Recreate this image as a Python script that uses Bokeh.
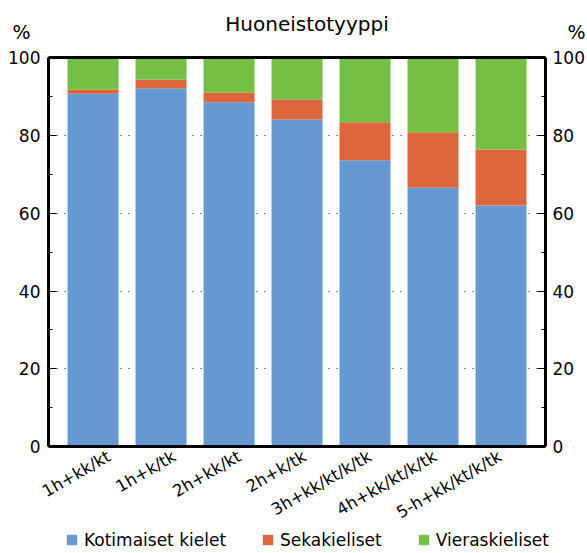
import math
from bokeh.plotting import figure
from bokeh.models import (Range1d, LinearAxis, SingleIntervalTicker, FixedTicker,
                          Legend, LegendItem, Label, ColumnDataSource, Grid)
from bokeh.embed import file_html
from bokeh.resources import INLINE

# ---- data ----
categories = ["1h+kk/kt", "1h+k/tk", "2h+kk/kt", "2h+k/tk",
              "3h+kk/kt/k/tk", "4h+kk/kt/k/tk", "5-h+kk/kt/k/tk"]
kotimaiset = [90.6, 92.0, 88.4, 84.0, 73.5, 66.5, 61.9]
sekakieliset = [1.1, 2.2, 2.5, 5.1, 9.8, 14.2, 14.4]
vieraskieliset = [8.3, 5.8, 9.1, 10.9, 16.7, 19.3, 23.7]
series_names = ["Kotimaiset kielet", "Sekakieliset", "Vieraskieliset"]
series_keys = ["kotimaiset", "seka", "vieras"]
colors = ["#6699d3", "#dd653c", "#75bf44"]
title_text = "Huoneistotyyppi"
unit_text = "%"

FONT = "DejaVu Sans"
W, H = 587, 553
positions = list(range(len(categories)))

# plot-area extents in data units (axes sit at these values)
X_LO, X_HI = -0.655, len(categories) - 1 + 0.655
Y_LO, Y_HI = 0, 100

# the whole canvas is the frame; axes are placed with fixed_location
p = figure(width=W, height=H, output_backend="svg", toolbar_location=None,
           x_range=Range1d(-1.361, 7.272), y_range=Range1d(-27.31, 114.49),
           x_axis_type=None, y_axis_type=None, title=None, min_border=0)
p.outline_line_color = None
p.extra_x_ranges = {"lbl": Range1d(-1.667, 7.336)}

source = ColumnDataSource(dict(x=positions, kotimaiset=kotimaiset,
                               seka=sekakieliset, vieras=vieraskieliset))
renderers = p.vbar_stack(series_keys, x="x", width=0.75, color=colors,
                         line_color=None, source=source)

# dotted horizontal grid between the two y axes
grid = Grid(dimension=1, ticker=FixedTicker(ticks=[20, 40, 60, 80]),
            bounds=(Y_LO, Y_HI), cross_bounds=(X_LO, X_HI),
            grid_line_color="#222222", grid_line_dash="1 7",
            grid_line_width=1)
p.add_layout(grid)

def style_y(ax, standoff):
    ax.ticker = SingleIntervalTicker(interval=20, num_minor_ticks=2)
    ax.bounds = (Y_LO, Y_HI)
    ax.axis_line_color = "black"
    ax.axis_line_width = 3
    ax.major_tick_in = 8
    ax.major_tick_out = 0
    ax.minor_tick_in = 4
    ax.minor_tick_out = 0
    ax.major_tick_line_color = "black"
    ax.minor_tick_line_color = "black"
    ax.major_label_text_font = FONT
    ax.major_label_text_font_size = "17px"
    ax.major_label_text_color = "black"
    ax.major_label_standoff = standoff

ly = LinearAxis(fixed_location=X_LO)
style_y(ly, 8)
p.add_layout(ly, "left")
ry = LinearAxis(fixed_location=X_HI)
style_y(ry, 7)
p.add_layout(ry, "right")

# top frame line
top = LinearAxis(fixed_location=Y_HI, bounds=(X_LO, X_HI),
                 ticker=FixedTicker(ticks=[]), axis_line_color="black",
                 axis_line_width=3, major_tick_line_color=None,
                 minor_tick_line_color=None)
p.add_layout(top, "above")

# bottom axis with category labels
xa = LinearAxis(x_range_name="lbl", fixed_location=Y_LO,
                bounds=(-0.931, 6.692),
                ticker=FixedTicker(ticks=positions),
                major_label_overrides={i: c for i, c in zip(positions, categories)})
xa.axis_line_color = "black"
xa.axis_line_width = 3
xa.major_tick_line_color = None
xa.minor_tick_line_color = None
xa.major_label_orientation = math.radians(30)
xa.major_label_text_font = FONT
xa.major_label_text_font_size = "16.5px"
xa.major_label_text_color = "black"
xa.major_label_standoff = 2
p.add_layout(xa, "below")

# title and unit labels (screen units from the canvas bottom-left)
p.add_layout(Label(x=306.5, y=H - 23, x_units="screen", y_units="screen",
                   text=title_text, text_font=FONT, text_font_size="20px",
                   text_align="center", text_baseline="alphabetic",
                   text_color="black"))
p.add_layout(Label(x=12, y=H - 31, x_units="screen", y_units="screen",
                   text=unit_text, text_font=FONT, text_font_size="19px",
                   text_align="left", text_baseline="alphabetic",
                   text_color="black"))
p.add_layout(Label(x=567, y=H - 31, x_units="screen", y_units="screen",
                   text=unit_text, text_font=FONT, text_font_size="19px",
                   text_align="left", text_baseline="alphabetic",
                   text_color="black"))

# legend
legend = Legend(items=[LegendItem(label=n, renderers=[r])
                       for n, r in zip(series_names, renderers)],
                orientation="horizontal", location=(65, 3.5),
                glyph_width=13, glyph_height=13, label_standoff=6, spacing=35,
                padding=0, margin=0, label_height=17,
                label_text_font=FONT, label_text_font_size="17px",
                label_text_color="black", border_line_color=None,
                background_fill_alpha=0)
p.add_layout(legend, "center")

open("out.html", "w").write(file_html(p, INLINE))
